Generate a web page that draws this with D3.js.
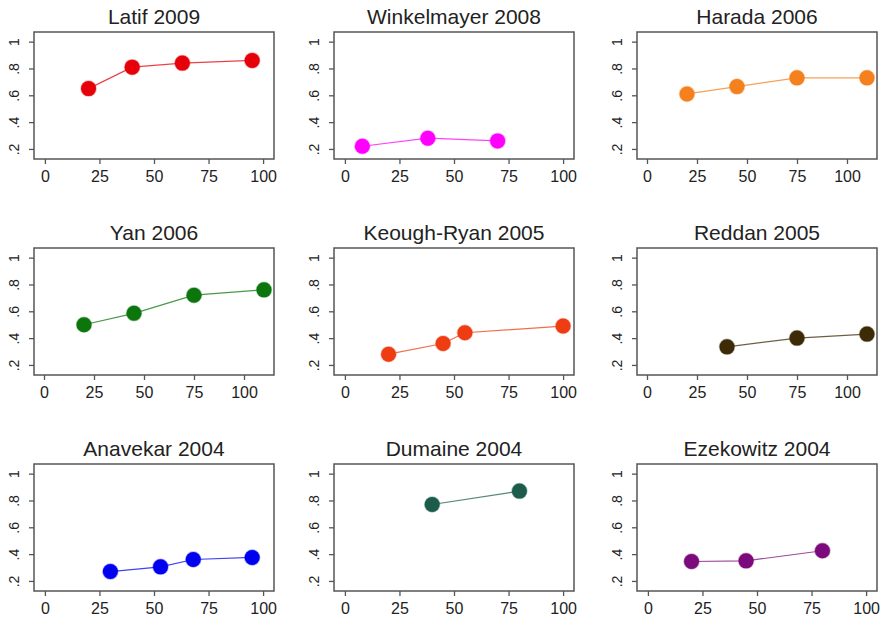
<!DOCTYPE html>
<html>
<head>
<meta charset="utf-8">
<script src="https://cdn.jsdelivr.net/npm/d3@7/dist/d3.min.js"></script>
<style>
  html, body { margin: 0; padding: 0; background: #fff; }
  svg { display: block; }
  text { font-family: "Liberation Sans", Arial, sans-serif; fill: #222; }
</style>
</head>
<body>
<svg id="chart" width="881" height="617"></svg>
<script>
// Study panels, in reading order (left to right, top to bottom)
const studies = [
  "Latif 2009", "Winkelmayer 2008", "Harada 2006",
  "Yan 2006", "Keough-Ryan 2005", "Reddan 2005",
  "Anavekar 2004", "Dumaine 2004", "Ezekowitz 2004"
];
const seriesColors = [
  "#e5000a", "#ff00ff", "#f4801e",
  "#0c760c", "#ee3d12", "#3d2a06",
  "#0000f0", "#1c5c4a", "#7c0a7c"
];
// x positions of each study's points
const xValues = [
  [20, 40, 63, 95],
  [8, 38, 70],
  [20, 45, 75, 110],
  [20, 45, 75, 110],
  [20, 45, 55, 100],
  [40, 75, 110],
  [30, 53, 68, 95],
  [40, 80],
  [20, 45, 80]
];
// y values of each study's points
const yValues = [
  [0.65, 0.81, 0.84, 0.86],
  [0.22, 0.28, 0.26],
  [0.61, 0.665, 0.73, 0.73],
  [0.50, 0.585, 0.72, 0.76],
  [0.28, 0.36, 0.44, 0.49],
  [0.335, 0.40, 0.43],
  [0.27, 0.305, 0.36, 0.375],
  [0.77, 0.87],
  [0.345, 0.35, 0.425]
];
const xTicks = [0, 25, 50, 75, 100];
const yTicks = [0.2, 0.4, 0.6, 0.8, 1];
const yTickLabels = [".2", ".4", ".6", ".8", "1"];

// Grid geometry
const colLeft = [34, 334, 637];
const rowTop = [32, 248, 464];
const boxW = 240, boxH = 127;

const svg = d3.select("#chart");

studies.forEach((name, i) => {
  const col = i % 3, row = Math.floor(i / 3);
  const left = colLeft[col], top = rowTop[row];
  const xMax = Math.max(100, d3.max(xValues[i]));

  const x = d3.scaleLinear().domain([-5, xMax + 5]).range([0, boxW]);
  const y = d3.scaleLinear().domain([0.125, 1.072]).range([boxH, 0]);

  const g = svg.append("g").attr("transform", `translate(${left},${top})`);

  // Title
  g.append("text")
    .attr("x", boxW / 2)
    .attr("y", -8)
    .attr("text-anchor", "middle")
    .style("font-size", "21px")
    .text(name);

  // Plot frame
  g.append("rect")
    .attr("x", 0).attr("y", 0)
    .attr("width", boxW).attr("height", boxH)
    .attr("fill", "#fff")
    .attr("stroke", "#555")
    .attr("stroke-width", 1.5);

  // X axis
  const xa = g.append("g")
    .attr("transform", `translate(0,${boxH})`)
    .call(d3.axisBottom(x).tickValues(xTicks).tickSize(5).tickPadding(7).tickFormat(d3.format("d")));
  xa.select(".domain").remove();
  xa.selectAll("line").attr("stroke", "#555").attr("stroke-width", 1.3);
  xa.selectAll("text")
    .style("font-size", "16px")
    .style("font-family", "'Liberation Sans', Arial, sans-serif")
    .attr("fill", "#222");

  // Y axis with rotated labels
  const ya = g.append("g")
    .call(d3.axisLeft(y).tickValues(yTicks).tickSize(5)
      .tickFormat((d, k) => yTickLabels[k]));
  ya.select(".domain").remove();
  ya.selectAll("line").attr("stroke", "#555").attr("stroke-width", 1.3);
  ya.selectAll("text")
    .attr("x", 0)
    .attr("y", -15)
    .attr("dy", 0)
    .attr("transform", "rotate(-90)")
    .attr("text-anchor", "middle")
    .style("font-size", "14px")
    .style("font-family", "'Liberation Sans', Arial, sans-serif")
    .attr("fill", "#222");

  // Connected series
  const pts = xValues[i].map((xv, k) => [xv, yValues[i][k]]);
  const line = d3.line().x(d => x(d[0])).y(d => y(d[1]));

  g.append("path")
    .datum(pts)
    .attr("d", line)
    .attr("fill", "none")
    .attr("stroke", seriesColors[i])
    .attr("stroke-opacity", 0.75)
    .attr("stroke-width", 1.2);

  g.selectAll("circle.pt")
    .data(pts)
    .join("circle")
    .attr("class", "pt")
    .attr("cx", d => x(d[0]))
    .attr("cy", d => y(d[1]))
    .attr("r", 7.5)
    .attr("fill", seriesColors[i])
    .attr("stroke", seriesColors[i])
    .attr("stroke-opacity", 0.35)
    .attr("stroke-width", 1.5);
});
</script>
</body>
</html>
